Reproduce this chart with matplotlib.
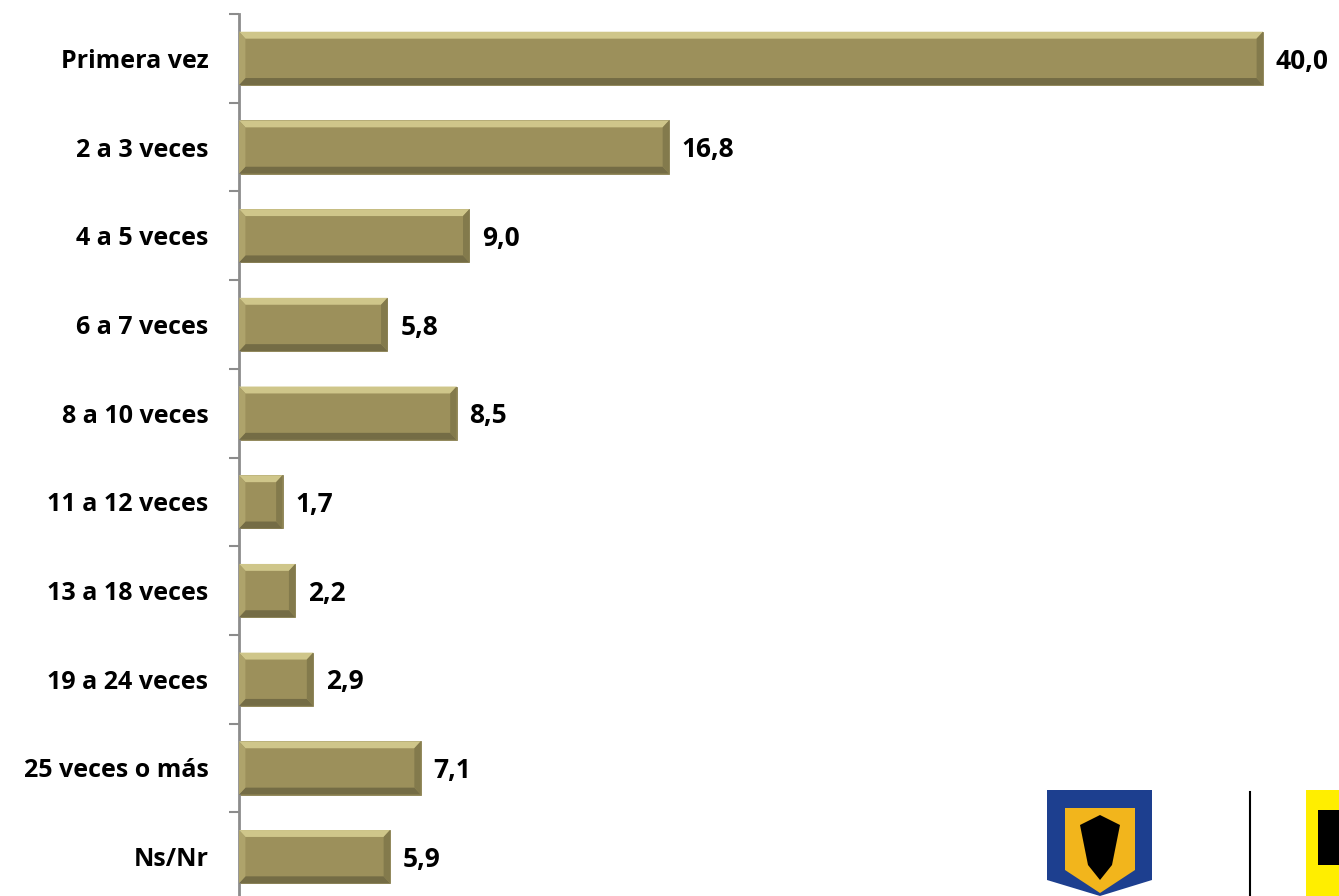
import numpy as np
import matplotlib.pyplot as plt
from matplotlib.patches import Rectangle, Polygon

# data
categorias = ['Primera vez', '2 a 3 veces', '4 a 5 veces', '6 a 7 veces', '8 a 10 veces',
              '11 a 12 veces', '13 a 18 veces', '19 a 24 veces', '25 veces o más', 'Ns/Nr']
valores = [40.0, 16.8, 9.0, 5.8, 8.5, 1.7, 2.2, 2.9, 7.1, 5.9]

plt.rcParams['font.family'] = ['Open Sans', 'DejaVu Sans']

fig = plt.figure(figsize=(13.39, 8.96), dpi=100)
W, H = 1339, 896
# axes placed in pixel terms: left edge at x=239, top boundary at y=14, 88.7 px per row
ax = fig.add_axes([239 / W, 1 - (14 + 10 * 88.7) / H, 1 - 239 / W, (10 * 88.7) / H])

pos = np.arange(len(categorias))
base = '#9c905b'
bars = ax.barh(pos, valores, height=0.6, color=base, edgecolor='#8a8050', linewidth=0.6, zorder=2)

# rough bevel on each bar
for b in bars:
    x, y, w, h = b.get_x(), b.get_y(), b.get_width(), b.get_height()
    bv = min(0.25, w / 2)
    bh = h * 0.13
    ax.add_patch(Polygon([(x, y), (x + w, y), (x + w - bv, y + bh), (x + bv, y + bh)],
                         closed=True, color='#cfc68a', lw=0, zorder=3))
    ax.add_patch(Polygon([(x, y + h), (x + w, y + h), (x + w - bv, y + h - bh), (x + bv, y + h - bh)],
                         closed=True, color='#746c45', lw=0, zorder=3))
    ax.add_patch(Polygon([(x + w, y), (x + w, y + h), (x + w - bv, y + h - bh), (x + w - bv, y + bh)],
                         closed=True, color='#837a4c', lw=0, zorder=3))
    ax.add_patch(Polygon([(x, y), (x, y + h), (x + bv, y + h - bh), (x + bv, y + bh)],
                         closed=True, color='#aea36b', lw=0, zorder=3))

for p, v in zip(pos, valores):
    ax.text(v + 0.5, p + 0.03, f'{v:.1f}'.replace('.', ','), va='center', ha='left',
            fontsize=19, fontweight='bold', clip_on=False)

ax.set_ylim(len(categorias) - 0.5, -0.5)
ax.set_xlim(0, 1100 / 25.6)
ax.set_yticks(pos)
ax.set_yticklabels(categorias, fontsize=18, fontweight='bold')
ax.set_yticks(np.arange(-0.5, len(categorias) + 0.5, 1), minor=True)
ax.tick_params(axis='y', which='major', length=0, pad=22)
ax.tick_params(axis='y', which='minor', length=7, width=1.5, color='#8c8c8c')
ax.set_xticks([])
for s in ['top', 'right', 'bottom']:
    ax.spines[s].set_visible(False)
ax.spines['left'].set_color('#8c8c8c')
ax.spines['left'].set_linewidth(2)

# logos in the lower right corner, drawn roughly
lx = fig.add_axes([0, 0, 1, 1], zorder=5)
lx.patch.set_alpha(0)
lx.set_xlim(0, W)
lx.set_ylim(H, 0)
lx.axis('off')
lx.add_patch(Polygon([(1047, 790), (1152, 790), (1152, 880), (1100, 896), (1047, 880)],
                     closed=True, color='#1d3f8f', lw=0))
lx.add_patch(Polygon([(1065, 808), (1135, 808), (1135, 870), (1100, 893), (1065, 870)],
                     closed=True, color='#f2b51c', lw=0))
lx.add_patch(Polygon([(1080, 825), (1100, 815), (1120, 825), (1112, 865), (1100, 880), (1088, 865)],
                     closed=True, color='black', lw=0))
lx.plot([1250, 1250], [792, 896], color='black', lw=1.5)
lx.add_patch(Rectangle((1306, 790), 40, 110, color='#ffee00', lw=0))
lx.add_patch(Rectangle((1318, 810), 25, 55, color='black', lw=0))

fig.savefig('out.png', dpi=100)
